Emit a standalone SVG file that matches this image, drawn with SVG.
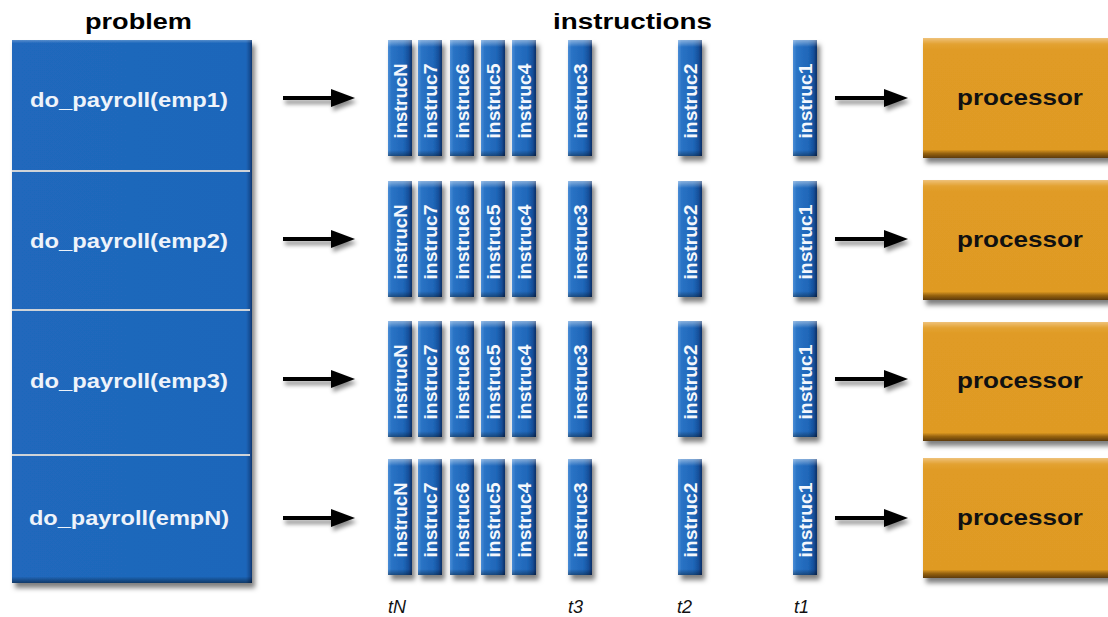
<svg xmlns="http://www.w3.org/2000/svg" width="1108" height="617" viewBox="0 0 1108 617">
<defs>
<style>
.ttl{font-family:"Liberation Sans",Arial,sans-serif;font-weight:bold;font-size:22px;fill:#000}
.job{font-family:"Liberation Sans",Arial,sans-serif;font-weight:bold;font-size:20px;fill:#eef3fa;text-anchor:middle}
.ins{font-family:"Liberation Sans",Arial,sans-serif;font-weight:bold;font-size:19px;fill:#f4f7fc;text-anchor:middle}
.proc{font-family:"Liberation Sans",Arial,sans-serif;font-weight:bold;font-size:22px;fill:#111;text-anchor:middle}
.tl{font-family:"Liberation Sans",Arial,sans-serif;font-style:italic;font-size:18px;fill:#111}
.sep{stroke:#cfd3d8;stroke-width:2}
.arr{stroke:#000;stroke-width:4;fill:none;marker-end:url(#head)}
</style>
<filter id="sh" x="-30%" y="-20%" width="170%" height="150%">
<feDropShadow dx="3" dy="5" stdDeviation="2.5" flood-color="#000" flood-opacity="0.5"/>
</filter>
<filter id="ash" x="-20%" y="-100%" width="140%" height="400%">
<feDropShadow dx="2" dy="4" stdDeviation="2" flood-color="#000" flood-opacity="0.45"/>
</filter>
<linearGradient id="barH" x1="0" y1="0" x2="1" y2="0">
<stop offset="0" stop-color="#4a8dd6"/>
<stop offset="0.15" stop-color="#2a73c5"/>
<stop offset="0.65" stop-color="#1f66b8"/>
<stop offset="0.85" stop-color="#16519c"/>
<stop offset="1" stop-color="#0b2f68"/>
</linearGradient>
<linearGradient id="barV" x1="0" y1="0" x2="0" y2="1">
<stop offset="0" stop-color="#ffffff" stop-opacity="0.45"/>
<stop offset="0.06" stop-color="#ffffff" stop-opacity="0"/>
<stop offset="0.95" stop-color="#000000" stop-opacity="0"/>
<stop offset="1" stop-color="#000000" stop-opacity="0.35"/>
</linearGradient>
<linearGradient id="probH" x1="0" y1="0" x2="1" y2="0">
<stop offset="0" stop-color="#2068bc"/>
<stop offset="0.975" stop-color="#1e66ba"/>
<stop offset="0.99" stop-color="#154f96"/>
<stop offset="1" stop-color="#0d3570"/>
</linearGradient>
<linearGradient id="probV" x1="0" y1="0" x2="0" y2="1">
<stop offset="0" stop-color="#ffffff" stop-opacity="0.25"/>
<stop offset="0.006" stop-color="#ffffff" stop-opacity="0"/>
<stop offset="0.988" stop-color="#000000" stop-opacity="0"/>
<stop offset="1" stop-color="#000000" stop-opacity="0.45"/>
</linearGradient>
<linearGradient id="procV" x1="0" y1="0" x2="0" y2="1">
<stop offset="0" stop-color="#efc27a"/>
<stop offset="0.05" stop-color="#e3a232"/>
<stop offset="0.1" stop-color="#e09b25"/>
<stop offset="0.93" stop-color="#df9a24"/>
<stop offset="0.96" stop-color="#9a6510"/>
<stop offset="1" stop-color="#5c3a06"/>
</linearGradient>
<marker id="head" viewBox="0 0 24 18" markerWidth="24" markerHeight="18" refX="8" refY="9" markerUnits="userSpaceOnUse" orient="auto">
<path d="M0,0 L24,9 L0,18 Z" fill="#000"/>
</marker>
</defs>
<rect width="1108" height="617" fill="#fff"/>

<text class="ttl" x="85" y="29" textLength="107" lengthAdjust="spacingAndGlyphs">problem</text>
<text class="ttl" x="553" y="29" textLength="159" lengthAdjust="spacingAndGlyphs">instructions</text>

<g id="problem">
<rect x="12" y="40" width="240" height="543" fill="url(#probH)" filter="url(#sh)"/>
<rect x="12" y="40" width="240" height="543" fill="url(#probV)"/>
<line class="sep" x1="12" y1="171" x2="250" y2="171"/>
<line class="sep" x1="12" y1="310" x2="250" y2="310"/>
<line class="sep" x1="12" y1="455" x2="250" y2="455"/>
<text class="job" x="129" y="107" textLength="198" lengthAdjust="spacingAndGlyphs">do_payroll(emp1)</text>
<text class="job" x="129" y="248" textLength="198" lengthAdjust="spacingAndGlyphs">do_payroll(emp2)</text>
<text class="job" x="129" y="388" textLength="198" lengthAdjust="spacingAndGlyphs">do_payroll(emp3)</text>
<text class="job" x="129" y="525" textLength="200" lengthAdjust="spacingAndGlyphs">do_payroll(empN)</text>
</g>

<g id="connectors">
<g filter="url(#ash)">
<line class="arr" x1="283" y1="98" x2="339" y2="98"/>
<line class="arr" x1="283" y1="239" x2="339" y2="239"/>
<line class="arr" x1="283" y1="379" x2="339" y2="379"/>
<line class="arr" x1="283" y1="518" x2="339" y2="518"/>
<line class="arr" x1="835" y1="98" x2="892" y2="98"/>
<line class="arr" x1="835" y1="239" x2="892" y2="239"/>
<line class="arr" x1="835" y1="379" x2="892" y2="379"/>
<line class="arr" x1="835" y1="518" x2="892" y2="518"/>
</g>
</g>

<g id="instructions">
<g id="row1-instr">
<g filter="url(#sh)">
<rect x="388" y="40" width="24" height="116" fill="url(#barH)"/>
<rect x="418" y="40" width="24" height="116" fill="url(#barH)"/>
<rect x="450" y="40" width="24" height="116" fill="url(#barH)"/>
<rect x="481" y="40" width="24" height="116" fill="url(#barH)"/>
<rect x="512" y="40" width="24" height="116" fill="url(#barH)"/>
<rect x="568" y="40" width="24" height="116" fill="url(#barH)"/>
<rect x="678" y="40" width="24" height="116" fill="url(#barH)"/>
<rect x="793" y="40" width="24" height="116" fill="url(#barH)"/>
</g>
<rect x="388" y="40" width="24" height="116" fill="url(#barV)"/>
<rect x="418" y="40" width="24" height="116" fill="url(#barV)"/>
<rect x="450" y="40" width="24" height="116" fill="url(#barV)"/>
<rect x="481" y="40" width="24" height="116" fill="url(#barV)"/>
<rect x="512" y="40" width="24" height="116" fill="url(#barV)"/>
<rect x="568" y="40" width="24" height="116" fill="url(#barV)"/>
<rect x="678" y="40" width="24" height="116" fill="url(#barV)"/>
<rect x="793" y="40" width="24" height="116" fill="url(#barV)"/>
<text class="ins" transform="translate(407,101) rotate(-90)" textLength="75" lengthAdjust="spacingAndGlyphs">instrucN</text>
<text class="ins" transform="translate(437,101) rotate(-90)" textLength="75" lengthAdjust="spacingAndGlyphs">instruc7</text>
<text class="ins" transform="translate(469,101) rotate(-90)" textLength="75" lengthAdjust="spacingAndGlyphs">instruc6</text>
<text class="ins" transform="translate(500,101) rotate(-90)" textLength="75" lengthAdjust="spacingAndGlyphs">instruc5</text>
<text class="ins" transform="translate(531,101) rotate(-90)" textLength="75" lengthAdjust="spacingAndGlyphs">instruc4</text>
<text class="ins" transform="translate(587,101) rotate(-90)" textLength="75" lengthAdjust="spacingAndGlyphs">instruc3</text>
<text class="ins" transform="translate(697,101) rotate(-90)" textLength="75" lengthAdjust="spacingAndGlyphs">instruc2</text>
<text class="ins" transform="translate(812,101) rotate(-90)" textLength="75" lengthAdjust="spacingAndGlyphs">instruc1</text>
</g>
<g id="row2-instr">
<g filter="url(#sh)">
<rect x="388" y="181" width="24" height="116" fill="url(#barH)"/>
<rect x="418" y="181" width="24" height="116" fill="url(#barH)"/>
<rect x="450" y="181" width="24" height="116" fill="url(#barH)"/>
<rect x="481" y="181" width="24" height="116" fill="url(#barH)"/>
<rect x="512" y="181" width="24" height="116" fill="url(#barH)"/>
<rect x="568" y="181" width="24" height="116" fill="url(#barH)"/>
<rect x="678" y="181" width="24" height="116" fill="url(#barH)"/>
<rect x="793" y="181" width="24" height="116" fill="url(#barH)"/>
</g>
<rect x="388" y="181" width="24" height="116" fill="url(#barV)"/>
<rect x="418" y="181" width="24" height="116" fill="url(#barV)"/>
<rect x="450" y="181" width="24" height="116" fill="url(#barV)"/>
<rect x="481" y="181" width="24" height="116" fill="url(#barV)"/>
<rect x="512" y="181" width="24" height="116" fill="url(#barV)"/>
<rect x="568" y="181" width="24" height="116" fill="url(#barV)"/>
<rect x="678" y="181" width="24" height="116" fill="url(#barV)"/>
<rect x="793" y="181" width="24" height="116" fill="url(#barV)"/>
<text class="ins" transform="translate(407,242) rotate(-90)" textLength="75" lengthAdjust="spacingAndGlyphs">instrucN</text>
<text class="ins" transform="translate(437,242) rotate(-90)" textLength="75" lengthAdjust="spacingAndGlyphs">instruc7</text>
<text class="ins" transform="translate(469,242) rotate(-90)" textLength="75" lengthAdjust="spacingAndGlyphs">instruc6</text>
<text class="ins" transform="translate(500,242) rotate(-90)" textLength="75" lengthAdjust="spacingAndGlyphs">instruc5</text>
<text class="ins" transform="translate(531,242) rotate(-90)" textLength="75" lengthAdjust="spacingAndGlyphs">instruc4</text>
<text class="ins" transform="translate(587,242) rotate(-90)" textLength="75" lengthAdjust="spacingAndGlyphs">instruc3</text>
<text class="ins" transform="translate(697,242) rotate(-90)" textLength="75" lengthAdjust="spacingAndGlyphs">instruc2</text>
<text class="ins" transform="translate(812,242) rotate(-90)" textLength="75" lengthAdjust="spacingAndGlyphs">instruc1</text>
</g>
<g id="row3-instr">
<g filter="url(#sh)">
<rect x="388" y="321" width="24" height="116" fill="url(#barH)"/>
<rect x="418" y="321" width="24" height="116" fill="url(#barH)"/>
<rect x="450" y="321" width="24" height="116" fill="url(#barH)"/>
<rect x="481" y="321" width="24" height="116" fill="url(#barH)"/>
<rect x="512" y="321" width="24" height="116" fill="url(#barH)"/>
<rect x="568" y="321" width="24" height="116" fill="url(#barH)"/>
<rect x="678" y="321" width="24" height="116" fill="url(#barH)"/>
<rect x="793" y="321" width="24" height="116" fill="url(#barH)"/>
</g>
<rect x="388" y="321" width="24" height="116" fill="url(#barV)"/>
<rect x="418" y="321" width="24" height="116" fill="url(#barV)"/>
<rect x="450" y="321" width="24" height="116" fill="url(#barV)"/>
<rect x="481" y="321" width="24" height="116" fill="url(#barV)"/>
<rect x="512" y="321" width="24" height="116" fill="url(#barV)"/>
<rect x="568" y="321" width="24" height="116" fill="url(#barV)"/>
<rect x="678" y="321" width="24" height="116" fill="url(#barV)"/>
<rect x="793" y="321" width="24" height="116" fill="url(#barV)"/>
<text class="ins" transform="translate(407,382) rotate(-90)" textLength="75" lengthAdjust="spacingAndGlyphs">instrucN</text>
<text class="ins" transform="translate(437,382) rotate(-90)" textLength="75" lengthAdjust="spacingAndGlyphs">instruc7</text>
<text class="ins" transform="translate(469,382) rotate(-90)" textLength="75" lengthAdjust="spacingAndGlyphs">instruc6</text>
<text class="ins" transform="translate(500,382) rotate(-90)" textLength="75" lengthAdjust="spacingAndGlyphs">instruc5</text>
<text class="ins" transform="translate(531,382) rotate(-90)" textLength="75" lengthAdjust="spacingAndGlyphs">instruc4</text>
<text class="ins" transform="translate(587,382) rotate(-90)" textLength="75" lengthAdjust="spacingAndGlyphs">instruc3</text>
<text class="ins" transform="translate(697,382) rotate(-90)" textLength="75" lengthAdjust="spacingAndGlyphs">instruc2</text>
<text class="ins" transform="translate(812,382) rotate(-90)" textLength="75" lengthAdjust="spacingAndGlyphs">instruc1</text>
</g>
<g id="row4-instr">
<g filter="url(#sh)">
<rect x="388" y="459" width="24" height="116" fill="url(#barH)"/>
<rect x="418" y="459" width="24" height="116" fill="url(#barH)"/>
<rect x="450" y="459" width="24" height="116" fill="url(#barH)"/>
<rect x="481" y="459" width="24" height="116" fill="url(#barH)"/>
<rect x="512" y="459" width="24" height="116" fill="url(#barH)"/>
<rect x="568" y="459" width="24" height="116" fill="url(#barH)"/>
<rect x="678" y="459" width="24" height="116" fill="url(#barH)"/>
<rect x="793" y="459" width="24" height="116" fill="url(#barH)"/>
</g>
<rect x="388" y="459" width="24" height="116" fill="url(#barV)"/>
<rect x="418" y="459" width="24" height="116" fill="url(#barV)"/>
<rect x="450" y="459" width="24" height="116" fill="url(#barV)"/>
<rect x="481" y="459" width="24" height="116" fill="url(#barV)"/>
<rect x="512" y="459" width="24" height="116" fill="url(#barV)"/>
<rect x="568" y="459" width="24" height="116" fill="url(#barV)"/>
<rect x="678" y="459" width="24" height="116" fill="url(#barV)"/>
<rect x="793" y="459" width="24" height="116" fill="url(#barV)"/>
<text class="ins" transform="translate(407,520) rotate(-90)" textLength="75" lengthAdjust="spacingAndGlyphs">instrucN</text>
<text class="ins" transform="translate(437,520) rotate(-90)" textLength="75" lengthAdjust="spacingAndGlyphs">instruc7</text>
<text class="ins" transform="translate(469,520) rotate(-90)" textLength="75" lengthAdjust="spacingAndGlyphs">instruc6</text>
<text class="ins" transform="translate(500,520) rotate(-90)" textLength="75" lengthAdjust="spacingAndGlyphs">instruc5</text>
<text class="ins" transform="translate(531,520) rotate(-90)" textLength="75" lengthAdjust="spacingAndGlyphs">instruc4</text>
<text class="ins" transform="translate(587,520) rotate(-90)" textLength="75" lengthAdjust="spacingAndGlyphs">instruc3</text>
<text class="ins" transform="translate(697,520) rotate(-90)" textLength="75" lengthAdjust="spacingAndGlyphs">instruc2</text>
<text class="ins" transform="translate(812,520) rotate(-90)" textLength="75" lengthAdjust="spacingAndGlyphs">instruc1</text>
</g>
</g>

<g id="processor1">
<rect x="923" y="38" width="200" height="120" fill="url(#procV)" filter="url(#sh)"/>
<text class="proc" x="1020" y="105" textLength="126" lengthAdjust="spacingAndGlyphs">processor</text>
</g>
<g id="processor2">
<rect x="923" y="180" width="200" height="120" fill="url(#procV)" filter="url(#sh)"/>
<text class="proc" x="1020" y="247" textLength="126" lengthAdjust="spacingAndGlyphs">processor</text>
</g>
<g id="processor3">
<rect x="923" y="322" width="200" height="119" fill="url(#procV)" filter="url(#sh)"/>
<text class="proc" x="1020" y="388" textLength="126" lengthAdjust="spacingAndGlyphs">processor</text>
</g>
<g id="processor4">
<rect x="923" y="458" width="200" height="120" fill="url(#procV)" filter="url(#sh)"/>
<text class="proc" x="1020" y="525" textLength="126" lengthAdjust="spacingAndGlyphs">processor</text>
</g>

<g id="time-labels">
<text class="tl" x="388" y="613">tN</text>
<text class="tl" x="568" y="613">t3</text>
<text class="tl" x="677" y="613">t2</text>
<text class="tl" x="794" y="613">t1</text>
</g>
</svg>
